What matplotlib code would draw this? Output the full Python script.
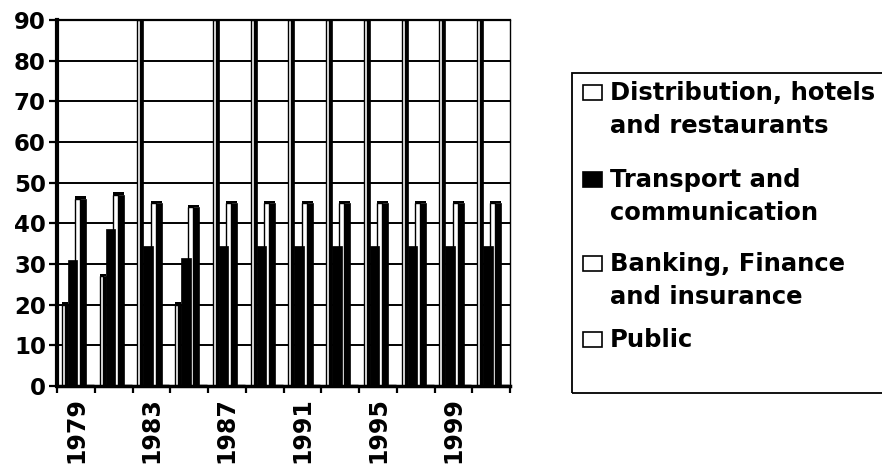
import matplotlib
matplotlib.use("Agg")
import matplotlib.pyplot as plt
from matplotlib.patches import Rectangle
import numpy as np

# Sector shares by year (two-year steps)
years = ['1979', '1981', '1983', '1985', '1987', '1989',
         '1991', '1993', '1995', '1997', '1999', '2001']
distribution = [20, 27, 90, 20, 90, 90, 90, 90, 90, 90, 90, 90]
transport = [31, 38.5, 34.5, 31.5, 34.5, 34.5, 34.5, 34.5, 34.5, 34.5, 34.5, 34.5]
banking = [46, 47, 45, 44, 45, 45, 45, 45, 45, 45, 45, 45]
public = [0, 0, 0, 0, 0, 0, 0, 0, 0, 0, 0, 0]

series_names = ["Distribution, hotels\nand restaurants",
                "Transport and\ncommunication",
                "Banking, Finance\nand insurance",
                "Public"]
series_fills = ['white', 'black', 'white', 'white']
yticks = [0, 10, 20, 30, 40, 50, 60, 70, 80, 90]

W, H = 882, 466
FONT = 'DejaVu Sans'

fig = plt.figure(figsize=(W / 100, H / 100), dpi=100)
fig.patch.set_facecolor('white')
ax = fig.add_axes([57 / W, 1 - 386 / H, (510 - 57) / W, (386 - 20) / H])

x = np.arange(len(years))


def white_column(values, left, face_w, side_w, z):
    # white front face, dark side strip and a thin top edge (pseudo 3-D)
    ax.bar(x + left, values, width=face_w, align='edge', color='white',
           edgecolor='black', linewidth=1.0, zorder=z)
    ax.bar(x + left + face_w, values, width=side_w, align='edge',
           color='black', edgecolor='black', linewidth=0.5, zorder=z)
    ax.bar(x + left, [0.6] * len(values), bottom=values,
           width=face_w + side_w, align='edge', color='black',
           linewidth=0, zorder=z)


white_column(distribution, 0.13, 0.08, 0.08, 3)
white_column(banking, 0.48, 0.13, 0.16, 2.5)
ax.bar(x + 0.29, transport, width=0.25, align='edge', color='black',
       edgecolor='black', linewidth=0.5, zorder=4)
ax.bar(x + 0.77, public, width=0.21, align='edge', color='white',
       edgecolor='black', linewidth=2.5, zorder=3)

ax.set_xlim(0, len(years))
ax.set_ylim(0, 90)

ax.set_yticks(yticks)
ax.set_yticklabels([str(v) for v in yticks], fontsize=16.5,
                   fontweight='bold', family=FONT)
ax.yaxis.grid(True, color='black', linewidth=1.4)
ax.set_axisbelow(True)

ax.set_xticks(np.arange(len(years) + 1))
ax.set_xticklabels([])
ax.set_xticks(x + 0.5, minor=True)
ax.set_xticklabels([y if i % 2 == 0 else '' for i, y in enumerate(years)],
                   minor=True, rotation=90, fontsize=17,
                   fontweight='bold', family=FONT)

ax.tick_params(axis='y', direction='out', length=6, width=1.6, pad=2,
               colors='black')
ax.tick_params(axis='x', which='major', direction='out', length=5,
               width=1.6)
ax.tick_params(axis='x', which='minor', length=0, pad=8)

ax.spines['left'].set_linewidth(3)
ax.spines['bottom'].set_linewidth(2.5)
ax.spines['right'].set_linewidth(1.0)
ax.spines['top'].set_linewidth(1.6)
for s in ax.spines.values():
    s.set_color('black')
    s.set_zorder(6)

# legend panel
fig.patches.append(Rectangle((572 / W, 1 - 393 / H), 0.5, 320 / H,
                             transform=fig.transFigure, fill=False,
                             edgecolor='black', linewidth=1.3))
first_baselines = [100, 187, 271, 347]
line_gap = 33
for name, fc, yb in zip(series_names, series_fills, first_baselines):
    fig.patches.append(Rectangle((583 / W, 1 - yb / H), 19 / W, 15 / H,
                                 transform=fig.transFigure, facecolor=fc,
                                 edgecolor='black', linewidth=1.2))
    for k, line in enumerate(name.split('\n')):
        fig.text(610 / W, 1 - (yb + k * line_gap) / H, line, fontsize=17.5,
                 fontweight='bold', family=FONT, ha='left', va='baseline')

fig.savefig('out.png', dpi=100, facecolor='white')
